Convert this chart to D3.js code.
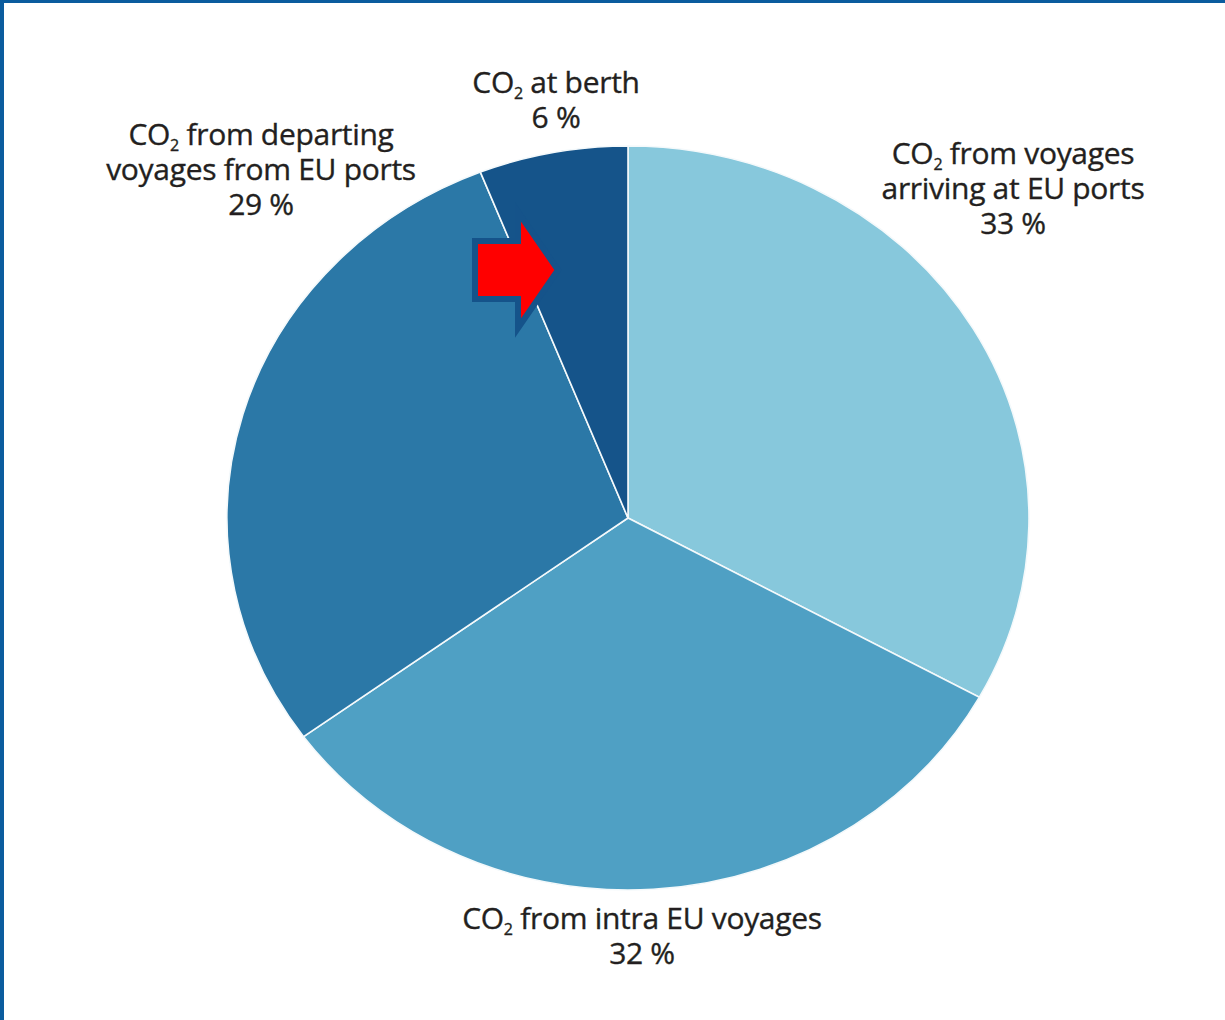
<!DOCTYPE html>
<html lang='en'>
<head>
	<meta charset='UTF-8'/>
	<title>CO2 shares pie</title>
	<script src='https://cdnjs.cloudflare.com/ajax/libs/d3/7.8.5/d3.min.js'></script>
	<style>
		body {margin: 0; background: #fff;}
		svg {display: block;}
		.lbl {font-family: 'Open Sans', sans-serif; font-size: 30px; fill: #231f20; letter-spacing: -0.3px; stroke: #231f20; stroke-width: 0.35px;}
	</style>
</head>
<body>
	<div class='graph'></div>
	<script>
		// data, clockwise from 12 o'clock
		const names = ['from voyages arriving at EU ports', 'from intra EU voyages', 'from departing voyages from EU ports', 'at berth'];
		const shares = [33, 32, 29, 6];
		const colours = ['#87c8dc', '#4fa0c4', '#2b78a7', '#15548a'];

		// label lines (first line starts with CO2)
		const labelLines = [
			['from voyages', 'arriving at EU ports'],
			['from intra EU voyages'],
			['from departing', 'voyages from EU ports'],
			['at berth']
		];
		// label centre / first baseline
		const labelPos = [[1013, 164], [642, 929], [261, 145], [556, 93]];

		const width = 1225, height = 1020;
		const cx = 628, cy = 518, rx = 401, ry = 372;
		const lineH = 35;

		const svg = d3.select('.graph')
			.append('svg')
			.attr('width', width)
			.attr('height', height);

		// frame
		svg.append('rect').attr('x', 0).attr('y', 0).attr('width', width).attr('height', 3).attr('fill', '#0b5c9e');
		svg.append('rect').attr('x', 0).attr('y', 0).attr('width', 4).attr('height', height).attr('fill', '#0b5c9e');

		const pie = d3.pie().sort(null).value(d => d)(shares);
		const arc = d3.arc().innerRadius(0).outerRadius(rx);

		const g = svg.append('g')
			.attr('transform', 'translate(' + cx + ',' + cy + ') scale(1,' + (ry / rx) + ')');
		g.selectAll('path')
			.data(pie)
			.enter()
			.append('path')
			.attr('d', arc)
			.attr('fill', (d, i) => colours[i])
			.attr('stroke', '#f4f9fb')
			.attr('stroke-width', 1.6)
			.attr('vector-effect', 'non-scaling-stroke');

		// labels
		labelLines.forEach((lines, i) => {
			const [x, y] = labelPos[i];
			const t = svg.append('text').attr('class', 'lbl').attr('text-anchor', 'middle');
			const first = t.append('tspan').attr('x', x).attr('y', y);
			first.append('tspan').text('CO');
			first.append('tspan').attr('font-size', '16px').attr('dy', 6).text('2');
			first.append('tspan').attr('dy', -6).text(' ' + lines[0]);
			lines.slice(1).forEach((l, j) => {
				t.append('tspan').attr('x', x).attr('y', y + lineH * (j + 1)).text(l);
			});
			t.append('tspan').attr('x', x).attr('y', y + lineH * lines.length).text(shares[i] + ' %');
		});

		// red arrow pointing at the berth slice
		const arrow = [[475, 241], [518, 241], [518, 212], [558, 270], [518, 328], [518, 299], [475, 299]];
		svg.append('path')
			.attr('d', d3.line()(arrow) + 'Z')
			.attr('fill', '#ff0000')
			.attr('stroke', '#15538a')
			.attr('stroke-width', 6)
			.attr('stroke-linejoin', 'miter');
	</script>
</body>
</html>
